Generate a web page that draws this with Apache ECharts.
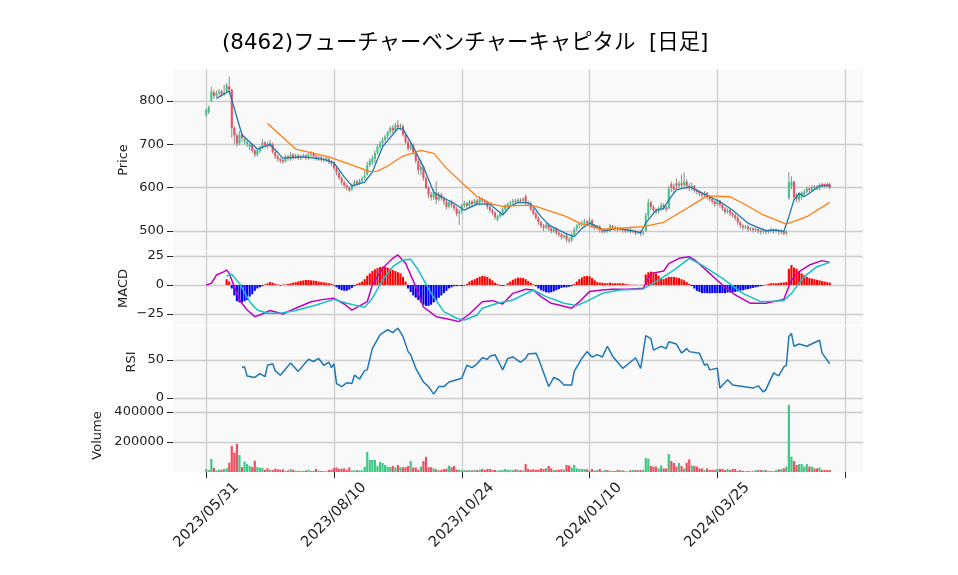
<!DOCTYPE html>
<html><head><meta charset="utf-8">
<script src="https://cdn.jsdelivr.net/npm/echarts@6/dist/echarts.min.js"></script>
<style>html,body{margin:0;padding:0;background:#fff}#c{width:958px;height:575px}</style>
</head><body><div id="c"></div>
<script>
const titleText = '(8462)フューチャーベンチャーキャピタル  [日足]';
// x tick labels, one every 50 trading days starting at day 0
const tickLabels = ['2023/05/31','2023/08/10','2023/10/24','2024/01/10','2024/03/25',''];
// daily candles [open, close, low, high], day 0 = 2023/05/31
const candles = [
[768,780,763,782],[774,786,770,790],[800,822,798,833],[820,812,805,826],[812,818,808,824],[818,822,812,828],[822,815,810,826],[815,820,812,838],[822,836,818,842],[834,826,815,856],
[826,738,715,828],[738,720,700,742],[720,702,695,726],[702,722,698,730],[722,714,706,726],[706,712,700,718],[700,706,694,710],[694,700,686,704],[700,686,680,702],[686,676,670,690],
[676,686,672,690],[684,692,680,696],[692,704,688,712],[704,698,694,708],[700,696,690,706],[696,704,692,710],[700,682,678,704],[682,672,666,686],[672,666,660,676],[666,662,656,670],
[664,660,654,668],[660,672,658,676],[672,668,662,676],[666,676,662,682],[676,670,665,680],[670,674,666,678],[674,668,664,678],[668,672,664,676],[672,674,668,678],[674,668,664,678],
[668,676,664,680],[676,678,670,684],[678,672,668,682],[672,666,662,676],[666,670,662,674],[670,666,660,674],[666,664,658,670],[664,668,660,672],[666,660,654,670],[660,656,650,664],
[656,645,640,660],[645,635,628,648],[634,622,618,638],[622,612,606,626],[612,605,598,616],[605,600,594,610],[600,594,590,604],[596,606,592,610],[606,614,602,618],[614,610,604,618],
[610,616,606,620],[616,622,612,626],[622,628,618,640],[630,652,628,660],[652,662,648,668],[658,668,652,674],[666,680,656,686],[680,694,676,700],[694,702,688,708],[702,710,696,716],
[710,718,704,722],[718,728,712,732],[728,738,722,742],[738,732,726,744],[732,744,728,750],[744,740,734,756],[740,742,732,748],[742,722,718,746],[722,705,700,726],[705,690,684,710],
[690,698,686,704],[698,682,676,702],[682,662,656,686],[662,640,630,666],[640,648,628,664],[648,622,616,652],[622,600,596,626],[600,584,576,604],[584,578,570,590],[578,590,572,596],
[588,572,562,614],[572,584,568,590],[584,576,570,588],[576,568,560,580],[568,556,550,572],[556,566,552,570],[566,560,554,572],[560,552,546,566],[552,540,534,556],[540,545,514,550],
[545,558,540,562],[558,564,554,570],[564,558,552,568],[558,568,554,572],[568,562,556,572],[562,570,558,574],[570,564,558,574],[564,574,560,580],[574,570,564,578],[570,566,560,574],
[566,556,550,570],[556,548,542,560],[548,542,536,552],[542,532,526,546],[526,534,522,538],[534,540,530,546],[540,550,536,554],[550,558,546,562],[558,562,552,566],[562,566,558,570],
[566,570,560,574],[570,568,562,574],[568,572,564,576],[572,570,565,576],[570,574,566,578],[580,566,560,584],[566,564,558,570],[564,550,546,568],[550,540,536,554],[540,530,526,544],
[530,520,514,534],[520,512,506,524],[512,508,500,516],[508,514,504,518],[514,506,500,518],[506,500,494,510],[500,504,496,508],[504,496,490,508],[496,492,486,500],[492,486,480,496],
[486,490,482,494],[490,480,474,494],[480,478,472,486],[478,492,474,496],[492,504,488,508],[504,512,500,516],[512,516,506,520],[516,518,510,524],[518,522,514,528],[522,518,512,526],
[518,524,514,532],[524,512,506,528],[512,508,502,516],[508,510,504,514],[510,502,496,514],[502,498,494,506],[498,502,494,506],[502,500,496,506],[500,512,498,516],[512,508,502,514],
[508,506,500,512],[506,504,498,510],[504,506,500,510],[506,502,496,508],[502,500,496,506],[500,504,496,508],[504,498,494,506],[498,500,494,504],[500,496,490,504],[496,498,492,502],
[498,494,488,502],[494,496,490,500],[500,536,498,542],[536,566,530,574],[566,556,548,570],[556,548,542,560],[548,544,538,552],[544,552,540,556],[552,560,546,566],[560,554,548,564],
[554,550,544,558],[552,598,550,604],[608,600,590,614],[602,596,588,610],[610,604,596,622],[604,610,598,616],[610,606,598,630],[606,614,600,636],[614,604,596,620],[604,600,592,610],
[600,604,594,612],[604,594,588,606],[594,590,584,598],[590,586,580,594],[586,582,576,590],[582,588,578,592],[588,578,572,590],[578,574,568,582],[574,568,562,578],[568,562,556,572],
[562,570,558,574],[570,560,554,572],[560,552,546,564],[552,544,538,556],[544,548,540,552],[548,540,534,552],[540,536,530,544],[536,530,524,540],[530,520,514,534],[520,512,506,524],
[512,508,502,516],[508,510,504,514],[510,504,498,514],[504,506,500,510],[506,502,496,508],[502,504,498,508],[504,500,494,506],[500,498,492,504],[498,502,494,506],[502,498,492,504],
[498,500,494,504],[500,504,496,508],[504,500,494,506],[500,502,496,506],[502,498,492,504],[498,500,492,504],[500,494,490,502],[494,498,490,502],[576,612,572,636],[604,614,596,626],
[614,578,572,616],[580,574,566,588],[572,586,566,590],[578,588,572,592],[584,590,580,596],[590,598,586,602],[598,594,588,602],[594,602,590,606],[602,600,594,606],[602,598,594,606],
[598,606,594,610],[608,606,600,612],[608,604,600,610],[608,606,602,612],[608,600,596,612]
];
const volume = [
20000,13000,87000,28000,12000,15000,15000,20000,25000,62000,
173000,129000,187000,113000,33000,69000,53000,40000,33000,75000,
33000,28000,28000,15000,25000,15000,13000,22000,18000,15000,
18000,8000,10000,20000,15000,8000,7000,7000,8000,10000,
15000,7000,7000,20000,10000,7000,5000,6000,13000,14000,
28000,30000,20000,22000,24000,14000,30000,10000,12000,11000,
12000,10000,35000,133000,80000,80000,80000,40000,67000,60000,
47000,35000,33000,40000,30000,47000,32000,32000,32000,40000,
73000,30000,30000,15000,36000,73000,102000,32000,32000,24000,
18000,12000,14000,20000,22000,43000,32000,40000,16000,16000,
12000,14000,10000,13000,10000,14000,12000,16000,20000,14000,
20000,20000,13000,13000,10000,12000,13000,20000,15000,13000,
12000,18000,13000,13000,10000,53000,20000,15000,18000,14000,
16000,24000,20000,25000,40000,24000,13000,13000,15000,18000,
16000,47000,44000,30000,47000,24000,20000,20000,20000,18000,
10000,20000,8000,13000,20000,6000,13000,13000,8000,6000,
6000,13000,13000,10000,5000,4000,12000,13000,13000,13000,
13000,15000,93000,88000,40000,36000,36000,24000,44000,24000,
24000,120000,73000,60000,36000,60000,40000,24000,62000,84000,
44000,40000,36000,24000,24000,13000,24000,13000,13000,13000,
20000,20000,20000,13000,20000,13000,20000,20000,7000,13000,
7000,6000,7000,5000,5000,12000,13000,13000,13000,12000,
7000,7000,5000,13000,18000,18000,24000,36000,447000,102000,
73000,47000,53000,53000,36000,53000,36000,36000,24000,24000,
30000,13000,13000,13000,13000
];
// short moving average [day, value]
const ma5 = [[4,806],[9,823],[14,722],[20,689],[25,700],[30,668],[38,671],[46,665],[50,657],[54,625],[57,604],[62,613],[65,636],[69,694],[75,737],[77,735],[80,705],[85,648],[89,590],[92,579],[97,564],[101,548],[106,562],[111,562],[116,537],[119,557],[122,566],[126,565],[128,557],[131,533],[134,514],[138,502],[142,491],[144,487],[147,506],[150,518],[153,510],[156,501],[161,506],[166,501],[170,496],[172,518],[176,548],[179,552],[181,572],[184,595],[189,602],[193,591],[197,579],[201,568],[206,548],[212,518],[215,510],[219,501],[223,502],[226,499],[228,533],[230,572],[232,587],[234,579],[237,591],[240,604],[244,605]];
// long moving average [day, value]
const ma25 = [[24,748],[35,689],[48,671],[58,650],[64,637],[67,638],[71,650],[77,673],[84,686],[89,679],[94,645],[101,606],[106,579],[112,562],[116,557],[123,559],[126,559],[129,557],[136,543],[141,533],[146,518],[151,510],[155,504],[161,506],[166,508],[171,510],[179,520],[188,552],[196,581],[205,579],[210,564],[218,537],[227,516],[235,533],[244,566]];
const macdLine = [[0,0],[2,1.4],[4,8.6],[7,11.5],[8,12.9],[9,10],[11,-1.4],[13,-13],[16,-21.6],[19,-27.3],[21,-25.9],[25,-22],[30,-25],[35,-20],[41,-14.4],[46,-12.4],[50,-11.5],[54,-16.4],[57,-21.6],[60,-18],[63,-14.4],[65,0],[69,14.4],[73,23],[75,25.9],[78,18.7],[82,-1.4],[85,-19],[90,-27.3],[95,-29.6],[99,-31.6],[103,-25],[108,-14.4],[112,-13.5],[116,-16.4],[120,-7.2],[125,-3.7],[128,-4.3],[131,-10],[135,-15.8],[138,-17.2],[143,-20],[146,-14.4],[150,-5.7],[155,-4.3],[159,-3.7],[165,-3.7],[171,-2.9],[174,9.8],[179,12.1],[181,18.4],[185,23],[189,24.4],[192,20.1],[197,10],[202,0],[207,-8.6],[213,-15.8],[219,-15.8],[226,-12.4],[229,4.3],[232,11.5],[236,17.2],[241,21],[244,19.5]];
const signalLine = [[8,7.8],[10,9.2],[13,1.4],[17,-14.4],[20,-21.6],[24,-24.4],[29,-24.4],[35,-22],[43,-17.2],[50,-12.4],[55,-15.8],[62,-19.3],[65,-11.5],[69,4.3],[73,15.8],[77,21.6],[80,22.1],[83,12.9],[88,-7.2],[93,-23],[98,-28.7],[101,-30.2],[106,-25.9],[108,-20],[114,-15.8],[120,-12.9],[128,-4.3],[133,-10],[140,-15.8],[145,-17.8],[150,-12.9],[155,-7.2],[162,-4.3],[171,-3.4],[176,2.9],[183,12.9],[189,23],[194,17.2],[202,5.7],[210,-7.2],[217,-14.4],[226,-13.5],[229,-7.2],[234,7.2],[239,15.8],[244,19.5]];
const macdHist = [
null,null,null,null,null,null,null,null,5,3,
-3,-9,-14,-15,-15,-14,-13,-10,-8,-5,
-3,-2,-1,0.5,1.5,2.5,2,1,0.5,-0.5,
0.3,0.5,1,1.5,2,2.5,3,3.5,4,4.3,
4.3,4,3.8,3.5,3,2.5,2.3,2,1.5,1,
-0.5,-2,-3.5,-4.5,-5,-5,-4,-2.5,-1,1,
2,3,5,8,10,12,13.5,14.5,15.5,15.8,
15.5,15,14,13,12,11,10,7,3,-3,
-6,-9,-11,-13,-15,-17,-18,-18,-17,-15,
-13,-11,-9,-7,-5,-3,-2,-1,-1,-0.5,
-1,-0.5,1,3,4,5,6,7,7.8,7.5,
7,5.5,4,2,1,-0.6,-0.8,-0.3,1.5,3,
4.5,5.5,6.3,6.3,6,5,3.5,2,0.5,-1,
-3,-4.5,-5.5,-6.3,-6.6,-6.3,-5.5,-4.5,-3.5,-2.5,
-2,-2,-1.5,-1,1,3,5,6.5,7.5,7.8,
7.5,6,4,2.5,2,2,1.5,1.5,2,1.5,
1.5,1.5,1.5,1.5,1,0.5,0.3,0.2,0.2,0.1,
0.1,0.1,9,11,11.5,11,10,8,6,5,
6,7,7,7,6.5,6,5,4,2.5,1,
-1,-3,-5,-6,-7,-7,-7,-7.2,-7,-7,
-7,-7,-7,-7,-6.5,-6.5,-6,-6,-5.5,-5,
-4.5,-4,-3.5,-3,-2.5,-2,-1.5,-1,-0.5,0.3,
1,1.5,1.5,1.5,1.8,2,2.2,2.5,14,17.2,
15,14,12,10,8.5,7,6,5.5,5,4.5,
4,3.5,3,2.5,2
];
const rsi = [[14,40],[15,41],[16,29],[19,27],[21,32],[23,28],[24,43],[26,45],[27,36],[29,30],[33,46],[36,35],[40,51],[42,48],[44,52],[46,43],[48,47],[49,40],[50,45],[51,19],[53,15],[55,20],[57,19],[58,30],[60,25],[62,36],[63,37],[65,65],[68,83],[71,90],[73,86],[75,92],[77,81],[79,61],[80,57],[82,39],[85,21],[87,15],[89,5],[91,15],[93,15],[95,21],[98,24],[100,26],[102,43],[104,40],[106,45],[108,53],[110,51],[111,55],[113,57],[116,37],[118,52],[120,54],[123,47],[125,52],[126,58],[129,59],[130,52],[134,15],[136,27],[138,24],[140,17],[143,17],[144,35],[147,52],[149,61],[151,54],[153,57],[155,54],[157,68],[159,55],[163,39],[167,50],[168,53],[170,39],[172,82],[174,78],[175,63],[178,68],[180,65],[181,74],[184,71],[186,59],[188,65],[189,61],[193,59],[195,43],[196,45],[197,37],[200,39],[201,13],[204,24],[206,17],[210,15],[214,13],[216,16],[218,8],[219,11],[222,33],[224,29],[226,41],[227,43],[228,81],[229,85],[230,68],[232,71],[235,68],[240,76],[241,59],[244,45]];

const UP = '#3dc985', DOWN = '#ef4f60', WICK = '#8c8c8c';
const FONT = "'DejaVu Sans', 'Noto Sans CJK JP', sans-serif";
const PAD = 13;
const cats = [];
for (let i = -PAD; i <= 257; i++) cats.push(String(i));
const isTick = (idx, val) => { const n = +val; return n >= 0 && n % 50 === 0; };
const shift = arr => arr.map(p => [p[0] + PAD, p[1]]);
const padded = arr => new Array(PAD).fill('-').concat(arr.map(v => v === null ? '-' : v));

function xAx(gi, bottom) {
  return {
    type: 'category', gridIndex: gi, data: cats, boundaryGap: false,
    axisLine: {show: false},
    axisTick: {show: bottom, interval: isTick, length: 6, lineStyle: {color: '#222'}},
    axisLabel: {show: bottom, interval: isTick, rotate: 45, align: 'center', verticalAlign: 'middle',
      fontSize: 14.7, color: '#222', fontFamily: FONT, margin: 43,
      formatter: v => { const n = +v; return (n >= 0 && n % 50 === 0) ? (tickLabels[n / 50] || '') : ''; }},
    splitLine: {show: true, interval: isTick, lineStyle: {color: '#cccccc', width: 1.3}}
  };
}
function yAx(gi, min, max, vals, name, gap, fmt) {
  return {
    type: 'value', gridIndex: gi, min: min, max: max, name: name, nameLocation: 'middle', nameGap: gap,
    nameMoveOverlap: false,
    nameTextStyle: {fontSize: 13, color: '#222', fontFamily: FONT},
    axisLine: {show: false},
    axisTick: {show: true, customValues: vals, length: 6, lineStyle: {color: '#222'}},
    axisLabel: {customValues: vals, fontSize: 13, color: '#222', fontFamily: FONT, margin: 9, formatter: fmt || (v => String(v))},
    splitLine: {show: true, lineStyle: {color: '#cccccc', width: 1.3}}
  };
}
const gridBase = {left: 173, width: 690, show: true, backgroundColor: '#f9f9f9', borderWidth: 0};

const chart = echarts.init(document.getElementById('c'), null, {renderer: 'canvas'});
chart.setOption({
  animation: false,
  backgroundColor: '#fff',
  title: {text: titleText, left: 222, top: 33, padding: 0, textStyle: {fontSize: 21.4, fontWeight: 'normal', color: '#000', fontFamily: FONT}},
  grid: [
    Object.assign({top: 69, height: 182}, gridBase),
    Object.assign({top: 252, height: 73}, gridBase),
    Object.assign({top: 326, height: 72}, gridBase),
    Object.assign({top: 399, height: 73}, gridBase)
  ],
  xAxis: [xAx(0, false), xAx(1, false), xAx(2, false), xAx(3, true)],
  yAxis: [
    yAx(0, 453.8, 873.8, [500, 600, 700, 800], 'Price', 43),
    yAx(1, -34.5, 28.45, [-25, 0, 25], 'MACD', 43, v => v < 0 ? '\u2212' + Math.abs(v) : String(v)),
    yAx(2, 0, 94.7, [0, 50], 'RSI', 35),
    yAx(3, 0, 486667, [200000, 400000], 'Volume', 69)
  ],
  series: [
    {
      type: 'custom', xAxisIndex: 0, yAxisIndex: 0, z: 3, clip: true,
      data: candles.map((c, i) => [i + PAD, c[0], c[1], c[2], c[3]]),
      encode: {x: 0, y: [1, 2, 3, 4]},
      renderItem: function (params, api) {
        const x = api.value(0), o = api.value(1), c = api.value(2), l = api.value(3), h = api.value(4);
        const pO = api.coord([x, o]), pC = api.coord([x, c]), pL = api.coord([x, l]), pH = api.coord([x, h]);
        const w = 2.1;
        const top = Math.min(pO[1], pC[1]);
        const bh = Math.max(Math.abs(pO[1] - pC[1]), 1);
        return {type: 'group', children: [
          {type: 'line', shape: {x1: pH[0], y1: pH[1], x2: pL[0], y2: pL[1]}, style: {stroke: WICK, lineWidth: 1}},
          {type: 'rect', shape: {x: pO[0] - w / 2, y: top, width: w, height: bh}, style: {fill: c >= o ? UP : DOWN}}
        ]};
      }
    },
    {type: 'line', xAxisIndex: 0, yAxisIndex: 0, z: 4, data: shift(ma5), showSymbol: false, lineStyle: {color: '#1f77b4', width: 1.3}, itemStyle: {color: '#1f77b4'}},
    {type: 'line', xAxisIndex: 0, yAxisIndex: 0, z: 4, data: shift(ma25), showSymbol: false, lineStyle: {color: '#ff7f0e', width: 1.3}, itemStyle: {color: '#ff7f0e'}},
    {type: 'bar', xAxisIndex: 1, yAxisIndex: 1, z: 3, barWidth: 2.1, data: padded(macdHist),
      itemStyle: {color: p => (p.value >= 0 ? '#ff0000' : '#0000ff')}},
    {type: 'line', xAxisIndex: 1, yAxisIndex: 1, z: 4, data: shift(macdLine), showSymbol: false, lineStyle: {color: '#bf00bf', width: 1.5}, itemStyle: {color: '#bf00bf'}},
    {type: 'line', xAxisIndex: 1, yAxisIndex: 1, z: 4, data: shift(signalLine), showSymbol: false, lineStyle: {color: '#17c0c8', width: 1.5}, itemStyle: {color: '#17c0c8'}},
    {type: 'line', xAxisIndex: 2, yAxisIndex: 2, z: 4, data: shift(rsi), showSymbol: false, lineStyle: {color: '#1f77b4', width: 1.5}, itemStyle: {color: '#1f77b4'}},
    {type: 'bar', xAxisIndex: 3, yAxisIndex: 3, z: 3, barWidth: 2.2,
      data: padded(volume.map((v, i) => ({value: v, itemStyle: {color: candles[i][1] >= candles[i][0] ? UP : DOWN}})))}
  ]
});
</script>
</body></html>
